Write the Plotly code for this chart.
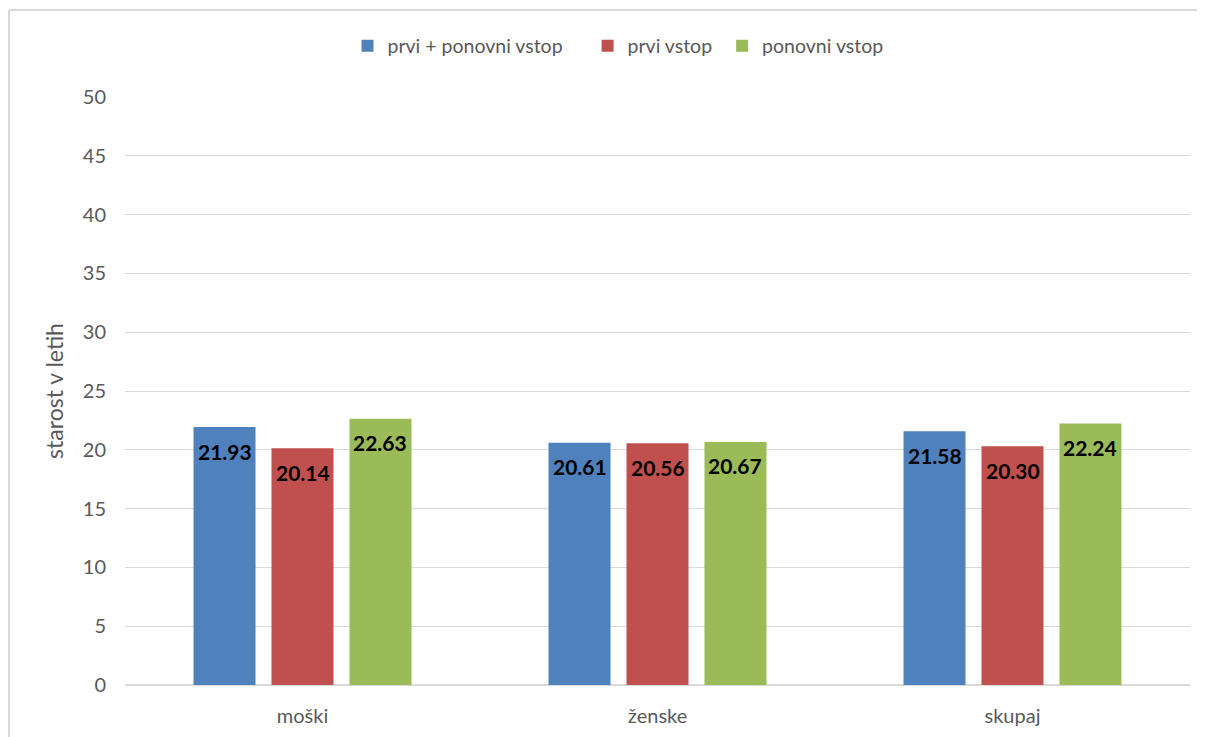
import plotly.graph_objects as go

categories = ["moški", "ženske", "skupaj"]
series_names = ["prvi + ponovni vstop", "prvi vstop", "ponovni vstop"]
prvi_ponovni = [21.93, 20.61, 21.58]
prvi = [20.14, 20.56, 20.30]
ponovni = [22.63, 20.67, 22.24]
y_ticks = [0, 5, 10, 15, 20, 25, 30, 35, 40, 45, 50]

colors = ["#4F81BD", "#C0504D", "#9BBB59"]
all_values = [prvi_ponovni, prvi, ponovni]
legend_pad = ["\u00a0" * 4, "\u00a0" * 1, ""]

# page body offset of 8px: screen = figure + 8
OFF = 8
W, H = 1205, 737
ml = 125 - OFF
mt = 97 - OFF
mr = W - (1190 - OFF)
mb = H - (685 - OFF)
pw, ph = W - ml - mr, H - mt - mb

fig = go.Figure()
for name, pad, vals, col in zip(series_names, legend_pad, all_values, colors):
    fig.add_trace(go.Bar(
        x=categories, y=vals, name=name + pad,
        marker=dict(color=col, line=dict(width=0)),
    ))

bargap = 0.341
bargroupgap = 0.205
slot = pw / len(categories) * (1 - bargap) / 3

annotations = []
for i, vals in enumerate(all_values):
    for c, v in zip(categories, vals):
        annotations.append(dict(
            x=c, y=v, xref="x", yref="y", text=f"<b>{v:.2f}</b>",
            showarrow=False, xshift=(i - 1) * slot, yshift=-24,
            font=dict(family="Lato", size=21, color="#000000"),
        ))

border_x = (9 - OFF - ml) / pw
border_y = 1 + (mt - (10 - OFF)) / ph
shapes = [
    dict(type="line", xref="paper", yref="paper", x0=border_x, x1=1.2,
         y0=border_y, y1=border_y, line=dict(color="#d9d9d9", width=2)),
    dict(type="line", xref="paper", yref="paper", x0=border_x, x1=border_x,
         y0=border_y, y1=-0.3, line=dict(color="#d9d9d9", width=2)),
]

fig.update_layout(
    width=W, height=H,
    margin=dict(l=ml, r=mr, t=mt, b=mb),
    paper_bgcolor="white", plot_bgcolor="white",
    barmode="group", bargap=bargap, bargroupgap=bargroupgap,
    font=dict(family="Lato", color="#595959", size=20),
    legend=dict(orientation="h", x=(618 - OFF - ml) / pw, xanchor="center",
                y=1 + (mt - (46 - OFF)) / ph, yanchor="middle",
                font=dict(size=19.5, color="#595959"), itemwidth=30,
                traceorder="normal"),
    xaxis=dict(showgrid=False, showline=False, ticks="", ticklabelstandoff=17,
               tickfont=dict(size=20, color="#595959")),
    yaxis=dict(range=[0, 50], tickvals=y_ticks, showgrid=True,
               gridcolor="#d9d9d9", gridwidth=1.2, zeroline=True,
               zerolinecolor="#d9d9d9", zerolinewidth=1.5, ticks="",
               ticklabelstandoff=18, tickfont=dict(size=20, color="#595959"),
               title=dict(text="starost v letih", standoff=12,
                          font=dict(size=23, color="#595959"))),
    annotations=annotations,
    shapes=shapes,
)

fig.write_html("out.html")
